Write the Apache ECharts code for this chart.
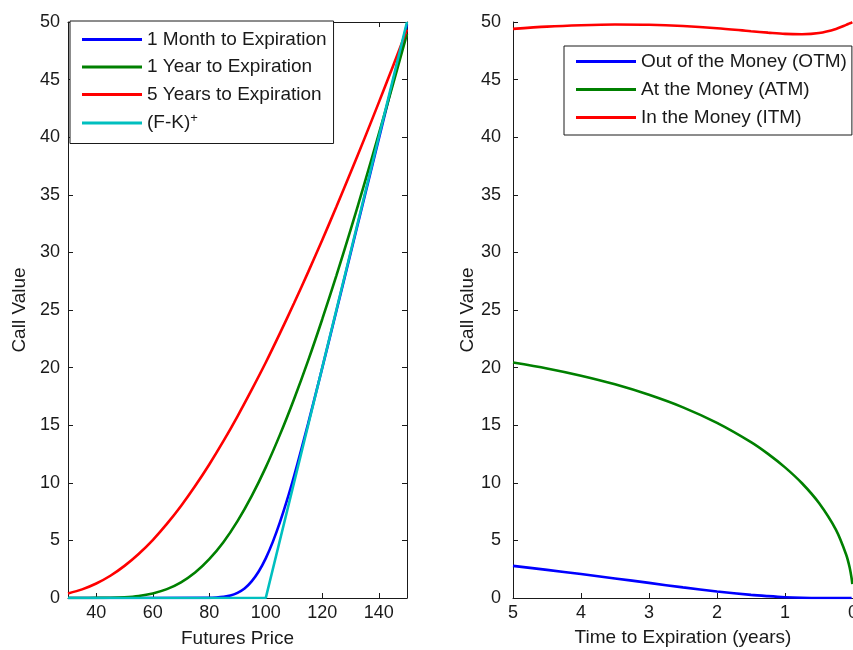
<!DOCTYPE html>
<html>
<head>
<meta charset="utf-8">
<script src="https://cdn.jsdelivr.net/npm/echarts@6/dist/echarts.min.js"></script>
<style>
  html, body { margin: 0; padding: 0; background: #ffffff; }
  #chart { width: 853px; height: 650px; }
</style>
</head>
<body>
<div id="chart"></div>
<script>
// ---- Left panel: call value vs futures price ----
const futuresPrice   = [30, 35, 40, 45, 50, 55, 60, 65, 70, 75, 80, 85, 90, 95, 100, 105, 110, 115, 120, 125, 130, 135, 140, 145, 150];
const oneYearValue   = [0, 0, 0.01, 0.02, 0.07, 0.18, 0.40, 0.77, 1.36, 2.21, 3.37, 4.84, 6.67, 8.84, 11.34, 14.16, 17.26, 20.61, 24.20, 27.99, 31.93, 36.04, 40.26, 44.56, 48.97];
const fiveYearValue  = [0.40, 0.75, 1.26, 1.93, 2.79, 3.82, 5.03, 6.43, 7.99, 9.72, 11.59, 13.61, 15.77, 18.06, 20.44, 22.97, 25.58, 28.29, 31.08, 33.96, 36.91, 39.92, 43.00, 46.14, 49.34];
const monthPrice     = [30, 80, 82.5, 85, 87.5, 90, 92.5, 95, 97.5, 100, 102.5, 105, 107.5, 110, 112.5, 115, 120, 125, 130, 140, 150];
const oneMonthValue  = [0, 0.01, 0.04, 0.10, 0.21, 0.45, 0.82, 1.44, 2.30, 3.44, 4.87, 6.56, 8.47, 10.57, 12.82, 15.14, 19.98, 24.91, 29.88, 39.83, 49.79];
const payoffPrice    = [30, 100, 150];
const payoffValue    = [0, 0, 50];
const priceTicks     = [40, 60, 80, 100, 120, 140];

// ---- Right panel: call value vs time to expiration ----
const timeToExpiry   = [5, 4.5, 4, 3.5, 3, 2.5, 2, 1.5, 1.25, 1, 0.75, 0.5, 0.25, 0.1, 0.05, 0.02, 0.01];
const otmValue       = [2.79, 2.44, 2.08, 1.70, 1.31, 0.92, 0.57, 0.27, 0.16, 0.07, 0.02, 0, 0, 0, 0, 0, 0];
const atmValue       = [20.44, 19.93, 19.30, 18.55, 17.64, 16.55, 15.20, 13.53, 12.51, 11.34, 9.96, 8.24, 5.91, 3.76, 2.67, 1.69, 1.20];
const itmValue       = [49.40, 49.60, 49.72, 49.78, 49.76, 49.65, 49.46, 49.20, 49.08, 48.97, 48.94, 49.04, 49.40, 49.75, 49.88, 49.95, 49.98];

const names = {
  m1: '1 Month to Expiration',
  y1: '1 Year to Expiration',
  y5: '5 Years to Expiration',
  pay: '(F-K)+',
  otm: 'Out of the Money (OTM)',
  atm: 'At the Money (ATM)',
  itm: 'In the Money (ITM)'
};

const FONT = 'Liberation Sans, Arial, Helvetica, sans-serif';
const FS = 18;     // tick labels
const FS_T = 19;   // legend and axis titles
const INK = '#1a1a1a';
const C_BLUE = '#0000ff', C_GREEN = '#008000', C_RED = '#ff0000', C_CYAN = '#00bfbf';

const zip = (xs, ys) => xs.map((x, i) => [x, ys[i]]);

const axisLine = { show: true, onZero: false, lineStyle: { color: INK, width: 1 } };
const tickIn = { show: true, inside: true, length: 5, lineStyle: { color: INK, width: 1 } };
const labelStyle = { color: INK, fontFamily: FONT, fontSize: FS };
const titleStyle = { color: INK, fontFamily: FONT, fontSize: FS_T };

const grids = [
  { left: 68, top: 22, width: 339, height: 576, outerBoundsMode: 'none', containLabel: false },
  { left: 513, top: 22, width: 340, height: 576, outerBoundsMode: 'none', containLabel: false }
];

const xAxes = [
  {
    gridIndex: 0, type: 'value', min: 30, max: 150, position: 'bottom',
    axisLine: axisLine,
    axisTick: Object.assign({}, tickIn, { customValues: priceTicks }),
    axisLabel: Object.assign({}, labelStyle, { margin: 6, customValues: priceTicks }),
    splitLine: { show: false },
    name: 'Futures Price', nameLocation: 'middle', nameGap: 31,
    nameTextStyle: titleStyle
  },
  {
    gridIndex: 0, type: 'value', min: 30, max: 150, position: 'top',
    axisLine: axisLine,
    axisTick: Object.assign({}, tickIn, { customValues: priceTicks }),
    axisLabel: { show: false },
    splitLine: { show: false }
  },
  {
    gridIndex: 1, type: 'value', min: 0, max: 5, interval: 1, inverse: true, position: 'bottom',
    axisLine: axisLine,
    axisTick: tickIn,
    axisLabel: Object.assign({}, labelStyle, { margin: 6, alignMinLabel: 'center', alignMaxLabel: 'center' }),
    splitLine: { show: false },
    name: 'Time to Expiration (years)', nameLocation: 'middle', nameGap: 30,
    nameTextStyle: titleStyle
  }
];

const yAxes = [
  {
    gridIndex: 0, type: 'value', min: 0, max: 50, interval: 5, position: 'left',
    axisLine: axisLine, axisTick: tickIn,
    axisLabel: Object.assign({}, labelStyle, { margin: 8 }),
    splitLine: { show: false },
    name: 'Call Value', nameLocation: 'middle', nameGap: 39, nameRotate: 90,
    nameTextStyle: titleStyle
  },
  {
    gridIndex: 0, type: 'value', min: 0, max: 50, interval: 5, position: 'right',
    axisLine: axisLine, axisTick: tickIn,
    axisLabel: { show: false },
    splitLine: { show: false }
  },
  {
    gridIndex: 1, type: 'value', min: 0, max: 50, interval: 5, position: 'left',
    axisLine: axisLine, axisTick: tickIn,
    axisLabel: Object.assign({}, labelStyle, { margin: 12 }),
    splitLine: { show: false },
    name: 'Call Value', nameLocation: 'middle', nameGap: 35, nameRotate: 90,
    nameTextStyle: titleStyle
  }
];

function lineSeries(name, data, color, xi, yi, smooth) {
  return {
    name: name, type: 'line', data: data,
    xAxisIndex: xi, yAxisIndex: yi,
    showSymbol: false, symbol: 'none',
    smooth: smooth, clip: true,
    lineStyle: { color: color, width: 2.6 },
    itemStyle: { color: color },
    emphasis: { disabled: true },
    animation: false
  };
}

const series = [
  lineSeries(names.m1, zip(monthPrice, oneMonthValue), C_BLUE, 0, 0, 0.3),
  lineSeries(names.y1, zip(futuresPrice, oneYearValue), C_GREEN, 0, 0, 0.3),
  lineSeries(names.y5, zip(futuresPrice, fiveYearValue), C_RED, 0, 0, 0.3),
  lineSeries(names.pay, zip(payoffPrice, payoffValue), C_CYAN, 0, 0, false),
  lineSeries(names.otm, zip(timeToExpiry, otmValue), C_BLUE, 2, 2, 0.3),
  lineSeries(names.atm, zip(timeToExpiry, atmValue), C_GREEN, 2, 2, 0.3),
  lineSeries(names.itm, zip(timeToExpiry, itmValue), C_RED, 2, 2, 0.3)
];

const legendText = {
  color: INK, fontFamily: FONT, fontSize: FS_T, lineHeight: 21,
  rich: {
    sup: { color: INK, fontFamily: FONT, fontSize: 13, padding: [0, 0, 10, 0] }
  }
};

const legends = [
  {
    orient: 'vertical', left: 70, top: 21,
    data: [names.m1, names.y1, names.y5, names.pay],
    icon: 'rect', itemWidth: 60, itemHeight: 3, itemGap: 6.5,
    padding: [8, 7, 10, 12],
    borderColor: INK, borderWidth: 1, backgroundColor: '#ffffff',
    selectedMode: false,
    textStyle: legendText,
    formatter: function (n) { return n === names.pay ? '(F-K){sup|+}' : n; }
  },
  {
    orient: 'vertical', left: 564, top: 46,
    data: [names.otm, names.atm, names.itm],
    icon: 'rect', itemWidth: 60, itemHeight: 3, itemGap: 7,
    padding: [5, 5, 7, 12],
    borderColor: INK, borderWidth: 1, backgroundColor: '#ffffff',
    selectedMode: false,
    textStyle: legendText
  }
];

const chart = echarts.init(document.getElementById('chart'), null, { renderer: 'canvas' });
chart.setOption({
  backgroundColor: '#ffffff',
  animation: false,
  grid: grids,
  xAxis: xAxes,
  yAxis: yAxes,
  legend: legends,
  series: series
});
</script>
</body>
</html>
